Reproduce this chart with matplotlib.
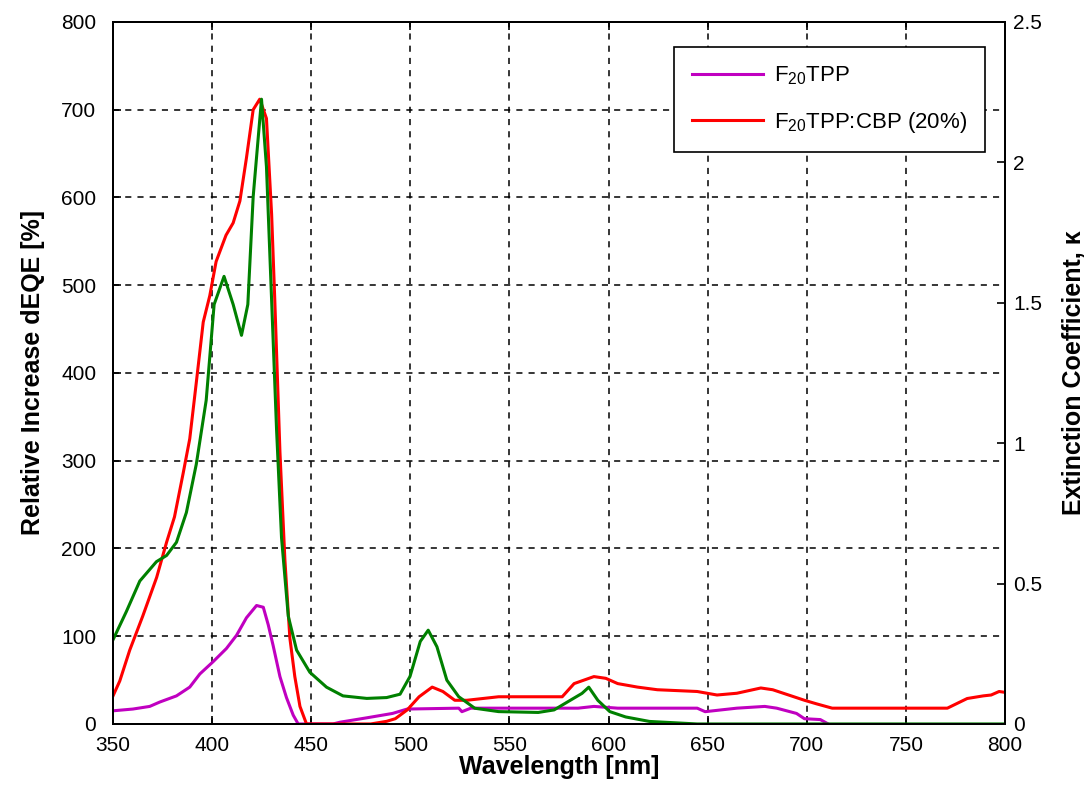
import matplotlib
matplotlib.use("Agg")
import matplotlib.pyplot as plt
import numpy as np

plt.rcParams['font.family'] = ['Liberation Sans', 'DejaVu Sans']
plt.rcParams['mathtext.default'] = 'regular'

# F20TPP (relative increase, %)
wl_purple = [350, 360, 368.5, 373.6, 382, 388.7, 393.8, 400.5, 407.2, 412.3, 417.3, 422.4,
             425.8, 428.3, 430.8, 434.2, 437.5, 440.9, 443.4, 461, 464.5, 478, 491, 498.4,
             524.4, 526, 530.5, 584.6, 592.6, 604.6, 644.7, 648.7, 664.7, 678.8, 684.8,
             694.8, 698.8, 706.8, 710.8]
eqe_purple = [15, 17, 20, 25, 32, 42, 57, 71, 86, 101, 121, 135,
              133, 113, 89, 54, 30, 10, 0, 0, 2, 7, 12, 17,
              18, 14, 18, 18, 20, 18, 18, 14, 18, 20, 18,
              12, 6, 5, 0]

# F20TPP:CBP (20%) (relative increase, %)
wl_red = [350, 353.4, 358.4, 365, 372, 377, 381, 385.4, 388.7, 392, 395.5, 398.8, 402,
          407, 410.6, 414, 417.3, 420.7, 424, 427.4, 430, 431.6, 434.2, 436.7, 439.2,
          441.7, 444.3, 447.6, 480, 488, 492.4, 498.4, 504.4, 511, 516.4, 522.4, 528.5,
          536.5, 544.5, 564.5, 576.6, 582.6, 592.6, 598.6, 604.6, 614.6, 624.6, 634.7,
          644.7, 654.7, 664.7, 676.8, 682.8, 690.8, 698.8, 704.8, 712.8, 724.8, 770.9,
          780.9, 789, 793, 797, 800]
eqe_red = [32, 49, 84, 123, 167, 207, 236, 286, 325, 389, 458, 488, 527,
           557, 571, 596, 645, 700, 712, 690, 581, 483, 310, 187, 98,
           54, 20, 0, 0, 3, 6, 16, 31, 42, 37, 27, 27,
           29, 31, 31, 31, 46, 54, 52, 46, 42, 39, 38,
           37, 33, 35, 41, 39, 33, 27, 23, 18, 18, 18,
           29, 32, 33, 37, 36]

# Extinction coefficient (right axis)
wl_green = [350, 356.7, 363.5, 371.9, 377, 382, 387, 392, 397, 401, 406, 410.6, 414.8,
            418, 420.7, 424.9, 427.4, 430, 432.5, 435, 438.4, 442.6, 449.3, 457.7, 466,
            478, 488, 494.8, 499.8, 505, 509, 513.4, 518.4, 524.4, 532.5, 544.5, 564.5,
            572.5, 580.6, 586.6, 590, 594.6, 600.6, 608.6, 620.6, 644.7, 700, 800]
kappa_green = [0.300, 0.400, 0.509, 0.578, 0.600, 0.647, 0.753, 0.925, 1.153, 1.494,
               1.594, 1.494, 1.384, 1.494, 1.878, 2.225, 1.984, 1.509, 1.047, 0.663,
               0.384, 0.263, 0.184, 0.131, 0.100, 0.091, 0.094, 0.106, 0.169, 0.294,
               0.334, 0.275, 0.156, 0.097, 0.056, 0.044, 0.041, 0.050, 0.084, 0.109,
               0.131, 0.084, 0.044, 0.025, 0.009, 0.0, 0.0, 0.0]

fig = plt.figure(figsize=(10.89, 7.96), dpi=100)
ax = fig.add_axes([0.1038, 0.0905, 0.8191, 0.8819])
ax2 = ax.twinx()

l1, = ax.plot(wl_purple, eqe_purple, color='#c000c0', lw=2.2, label=r'F$_{20}$TPP')
l2, = ax.plot(wl_red, eqe_red, color='#ff0000', lw=2.2, label=r'F$_{20}$TPP:CBP (20%)')
ax2.plot(wl_green, kappa_green, color='#008000', lw=2.2)

ax.set_xlim(350, 800)
ax.set_ylim(0, 800)
ax2.set_ylim(0, 2.5)
ax.set_xticks(np.arange(350, 801, 50))
ax.set_yticks(np.arange(0, 801, 100))
ax2.set_yticks([0, 0.5, 1, 1.5, 2, 2.5])
ax2.set_yticklabels(['0', '0.5', '1', '1.5', '2', '2.5'])

ax.grid(True, color='black', linestyle=(0, (4, 4)), linewidth=1.1)
ax.set_axisbelow(True)
for a in (ax, ax2):
    a.tick_params(direction='in', length=6, width=1.2, labelsize=15)
    for s in a.spines.values():
        s.set_linewidth(1.4)
ax.tick_params(top=True)
ax.tick_params(axis='y', pad=12)
ax.tick_params(axis='x', pad=9)
ax2.tick_params(axis='y', pad=6)

ax.set_xlabel('Wavelength [nm]', fontsize=18, fontweight='bold', labelpad=0)
ax.set_ylabel('Relative Increase dEQE [%]', fontsize=18, fontweight='bold', labelpad=12)
ax2.set_ylabel('Extinction Coefficient, κ', fontsize=18, fontweight='bold', labelpad=14)

leg = ax.legend(handles=[l1, l2], loc='upper right', fontsize=16, fancybox=False,
                edgecolor='black', framealpha=1, handlelength=3.2, handletextpad=0.5,
                borderpad=0.8, labelspacing=1.0, bbox_to_anchor=(0.99, 0.98))
leg.get_frame().set_linewidth(1.2)

fig.savefig('out.png', dpi=100)
